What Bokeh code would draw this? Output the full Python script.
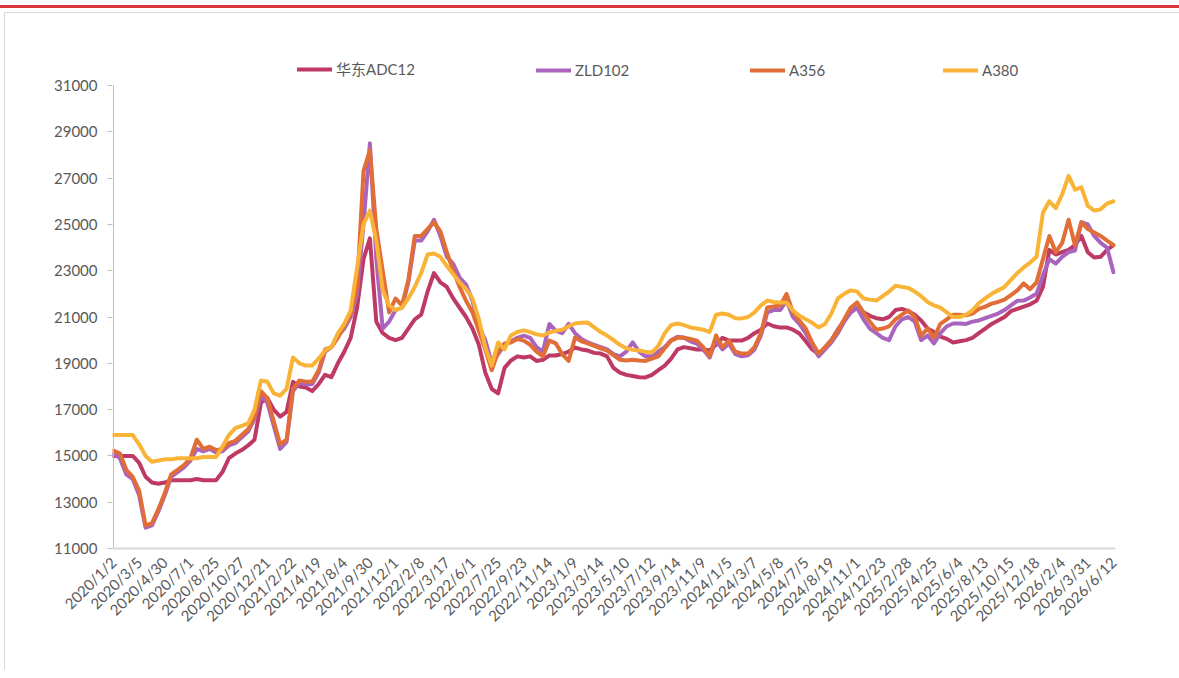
import math
from bokeh.plotting import figure
from bokeh.models import (Range1d, FixedTicker, Legend, LegendItem, ColumnDataSource)
from bokeh.embed import file_html
from bokeh.resources import INLINE

# ---- tick labels (category axis, every 40 trading days) ----
tick_labels = ["2020/1/2", "2020/3/5", "2020/4/30", "2020/7/1", "2020/8/25", "2020/10/27",
               "2020/12/21", "2021/2/22", "2021/4/19", "2021/8/4", "2021/9/30", "2021/12/1",
               "2022/2/8", "2022/3/17", "2022/6/1", "2022/7/25", "2022/9/23", "2022/11/14",
               "2023/1/9", "2023/3/14", "2023/5/10", "2023/7/12", "2023/9/14", "2023/11/9",
               "2024/1/5", "2024/3/7", "2024/5/8", "2024/7/5", "2024/8/19", "2024/11/1",
               "2024/12/23", "2025/2/28", "2025/4/25", "2025/6/4", "2025/8/13", "2025/10/15",
               "2025/12/18", "2026/2/4", "2026/3/31", "2026/6/12"]

series_names = ["华东ADC12", "ZLD102", "A356", "A380"]

y_ticks = [11000, 13000, 15000, 17000, 19000, 21000, 23000, 25000, 27000, 29000, 31000]

# values sampled 4 per label interval (position = label index + 0, .25, .5, .75)
adc12 = [
    15000, 15000, 15000, 15000,
    14700, 14100, 13850, 13800,
    13850, 13950, 13950, 13950,
    13950, 14000, 13950, 13950,
    13950, 14300, 14900, 15100,
    15250, 15450, 15700, 17300,
    17500, 17000, 16700, 16900,
    18200, 18000, 17950, 17800,
    18100, 18500, 18400, 19000,
    19500, 20100, 21400, 23500,
    24400, 20800, 20300, 20100,
    20000, 20100, 20500, 20900,
    21100, 22100, 22900, 22500,
    22300, 21800, 21400, 21000,
    20500, 19800, 18600, 17900,
    17700, 18800, 19120, 19300,
    19250, 19300, 19100, 19150,
    19340, 19340, 19400, 19500,
    19680, 19600, 19550, 19450,
    19420, 19300, 18800, 18600,
    18500, 18450, 18400, 18390,
    18500, 18700, 18900, 19200,
    19600, 19700, 19650, 19600,
    19600, 19550, 19800, 20100,
    19980, 19980, 19980, 20100,
    20300, 20450, 20720, 20600,
    20550, 20550, 20450, 20290,
    19950, 19600, 19400, 19680,
    20000, 20450, 20850, 21200,
    21400, 21200, 21050, 20950,
    20900, 21000, 21300, 21350,
    21250, 21100, 20850, 20500,
    20350, 20150, 20050, 19900,
    19950, 20000, 20100, 20300,
    20500, 20700, 20850, 21000,
    21250, 21350, 21450, 21550,
    21700, 22300, 23900, 23700,
    23800, 23900, 24100, 24500,
    23800, 23570, 23600, 23900,
    24100]

zld102 = [
    15100, 14900, 14200, 14000,
    13300, 11900, 12000, 12600,
    13300, 14100, 14300, 14500,
    14800, 15300, 15200, 15300,
    15150, 15200, 15450, 15550,
    15800, 16050, 16600, 17600,
    17300, 16300, 15300, 15600,
    17800, 18150, 18100, 18100,
    18600, 19500, 19700, 20200,
    20500, 21000, 22000, 25000,
    28500, 23500, 20500, 20800,
    21300, 21400, 22500, 24300,
    24300, 24700, 25200, 24500,
    23600, 23300, 22700, 22400,
    21700, 20600, 20000, 19000,
    19400, 19800, 19950, 20100,
    20200, 20100, 19700, 19500,
    20700, 20400, 20300, 20700,
    20300, 20050, 19900, 19800,
    19700, 19600, 19400, 19300,
    19500, 19900, 19500, 19300,
    19300, 19500, 19700, 20000,
    20150, 20100, 19950, 19850,
    19600, 19250, 20000, 19600,
    19850, 19400, 19300, 19350,
    19600, 20200, 21200, 21300,
    21300, 21700, 21000, 20700,
    20300, 19800, 19300, 19600,
    19900, 20300, 20800, 21200,
    21400, 20900, 20500, 20300,
    20100, 20000, 20600, 20900,
    21000, 20800, 20000, 20200,
    19860, 20300, 20600, 20720,
    20720, 20700, 20800, 20850,
    20950, 21050, 21150, 21300,
    21500, 21700, 21710, 21840,
    22000, 22800, 23500, 23310,
    23600, 23800, 23870, 25100,
    25000, 24500, 24200, 24000,
    22930]

a356 = [
    15230, 15100, 14400, 14100,
    13500, 12000, 12100, 12700,
    13400, 14200, 14400, 14600,
    14900, 15700, 15300, 15400,
    15250, 15300, 15550, 15650,
    15900, 16150, 16700, 17800,
    17500, 16500, 15500, 15700,
    17900, 18260, 18200, 18200,
    18700, 19600, 19700, 20100,
    20600, 21150, 22300, 27300,
    28200, 24800, 23000, 21200,
    21800, 21500, 22600, 24500,
    24500, 24800, 25100, 24700,
    23800, 23000, 22300, 21700,
    21200, 20400, 19600, 18700,
    19500, 19860, 19900, 20050,
    19980, 19800, 19500, 19300,
    19980, 19860, 19400, 19100,
    20110, 19950, 19860, 19750,
    19650, 19550, 19350, 19150,
    19120, 19150, 19120, 19100,
    19200, 19300, 19650, 19980,
    20100, 20110, 20050, 19980,
    19700, 19300, 20200, 19700,
    19980, 19500, 19420, 19420,
    19700, 20300, 21410, 21450,
    21500, 22000, 21200, 20850,
    20500, 19900, 19420, 19700,
    20000, 20400, 20900, 21400,
    21630, 21200, 20800, 20450,
    20500, 20600, 20900, 21100,
    21280, 21000, 20200, 20500,
    20100, 20700, 20900, 21100,
    21100, 21070, 21150, 21350,
    21450, 21580, 21650, 21750,
    21950, 22150, 22450, 22200,
    22500, 23500, 24500, 23800,
    24200, 25200, 24100, 25100,
    24800, 24650, 24500, 24300,
    24100]

a380 = [
    15900, 15900, 15900, 15900,
    15500, 15000, 14750, 14800,
    14850, 14850, 14900, 14900,
    14900, 14900, 14950, 14950,
    14950, 15400, 15900, 16200,
    16300, 16400, 17000, 18260,
    18200, 17700, 17600, 17900,
    19250, 19000, 18900, 18900,
    19200, 19550, 19700, 20290,
    20700, 21280, 23140, 25000,
    25600, 24300, 22150, 21500,
    21300, 21400, 21800, 22300,
    22900, 23700, 23740, 23600,
    23200, 22850, 22500, 22200,
    21800, 20900, 19700, 18900,
    19900, 19600, 20200, 20350,
    20420, 20350, 20250, 20200,
    20330, 20400, 20450, 20600,
    20720, 20750, 20760, 20550,
    20350, 20200, 20000, 19800,
    19650, 19580, 19550, 19500,
    19470, 19750, 20300, 20650,
    20720, 20650, 20550, 20500,
    20450, 20350, 21100, 21150,
    21100, 20950, 20940, 21000,
    21200, 21500, 21710, 21650,
    21630, 21630, 21280, 21050,
    20900, 20750, 20550, 20700,
    21150, 21800, 22000, 22150,
    22100, 21800, 21750, 21710,
    21900, 22100, 22350, 22300,
    22250, 22100, 21900, 21650,
    21500, 21400, 21200, 21000,
    21000, 21100, 21280, 21600,
    21800, 22000, 22150, 22300,
    22600, 22900, 23140, 23350,
    23600, 25500, 26000, 25700,
    26300, 27100, 26500, 26600,
    25800, 25600, 25650, 25900,
    26000]

colors = ["#BE3A64", "#AA64BE", "#E16E37", "#F9B437"]

n = len(adc12)
pos = [i / 4 for i in range(n)]

FONT = "Lato, Noto Sans CJK SC"
GRAY = "#595959"

W, H = 1179, 670
# frame from x=112..1115, y=55..548 (extra room on top for the legend)
p = figure(width=W, height=H, output_backend="svg", toolbar_location=None,
           x_range=Range1d(-0.039, 39.08), y_range=Range1d(11000, 32296),
           min_border_left=112, min_border_right=64, min_border_top=55,
           min_border_bottom=122)
p.outline_line_color = None
p.grid.visible = False
p.background_fill_color = "white"
p.border_fill_alpha = 0
p.styles = {
    "background": ("linear-gradient(#D9383A,#D9383A) 0px 5px / 100% 3px no-repeat, "
                   "linear-gradient(#D9D9D9,#D9D9D9) 4px 12px / 100% 1px no-repeat, "
                   "linear-gradient(#D9D9D9,#D9D9D9) 4px 12px / 1px 100% no-repeat, #ffffff")
}

renderers = []
for name, vals, col in zip(series_names, [adc12, zld102, a356, a380], colors):
    src = ColumnDataSource(dict(x=pos, y=vals))
    r = p.line("x", "y", source=src, line_color=col, line_width=4,
               line_join="round", line_cap="round")
    renderers.append(r)

# y axis line only over the value range
p.segment(x0=[0], y0=[y_ticks[0]], x1=[0], y1=[y_ticks[-1]], line_color="#BFBFBF",
          line_width=1)

ya = p.yaxis[0]
ya.ticker = FixedTicker(ticks=y_ticks)
ya.axis_line_color = None
ya.major_tick_line_color = "#BFBFBF"
ya.major_tick_out = 5
ya.major_tick_in = 0
ya.minor_tick_line_color = None
ya.major_label_text_font = FONT
ya.major_label_text_font_size = "15px"
ya.major_label_text_color = GRAY
ya.major_label_standoff = 10

xa = p.xaxis[0]
xa.ticker = FixedTicker(ticks=list(range(len(tick_labels))))
xa.major_label_overrides = {i: t for i, t in enumerate(tick_labels)}
xa.major_label_orientation = math.pi / 4
xa.axis_line_color = "#D9D9D9"
xa.axis_line_width = 2
xa.major_tick_line_color = None
xa.minor_tick_line_color = None
xa.major_label_text_font = FONT
xa.major_label_text_font_size = "15px"
xa.major_label_text_color = GRAY
xa.major_label_standoff = 5

# one legend per item, placed above the data inside the frame
leg_x = [185, 424, 638, 831]
for nm, r, lx in zip(series_names, renderers, leg_x):
    lg = Legend(items=[LegendItem(label=nm, renderers=[r])], location=(lx, 469),
                orientation="horizontal", border_line_color=None,
                background_fill_alpha=0, padding=0, margin=0, spacing=0,
                glyph_width=35, glyph_height=16, label_height=16, label_standoff=4,
                label_text_font=FONT, label_text_font_size="15px",
                label_text_color=GRAY)
    p.add_layout(lg, "center")

open("out.html", "w").write(file_html(p, INLINE))
